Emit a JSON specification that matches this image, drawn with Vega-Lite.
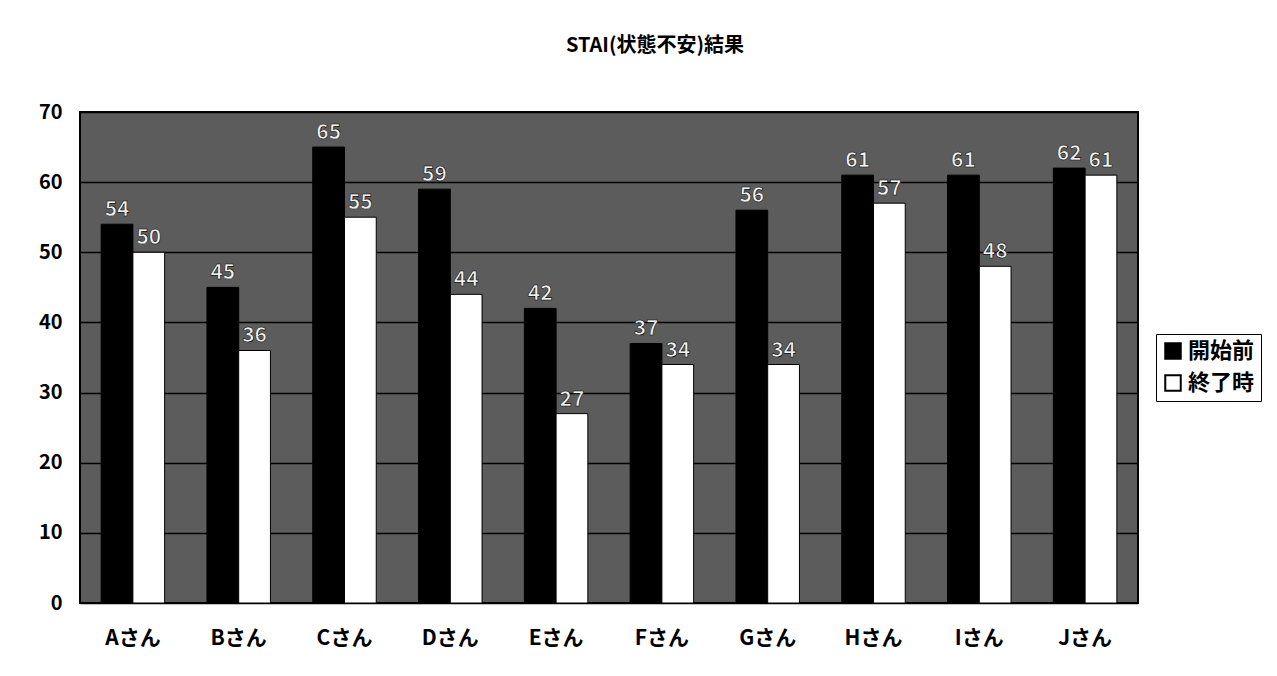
{
  "$schema": "https://vega.github.io/schema/vega-lite/v6.json",
  "autosize": "none",
  "width": 1058,
  "height": 491,
  "padding": {"left": 80, "top": 112, "right": 139, "bottom": 73},
  "background": "white",
  "title": {"text": "STAI(状態不安)結果", "fontSize": 20, "font": "Noto Sans CJK JP", "fontWeight": "bold", "color": "black", "anchor": "middle", "dx": 46, "offset": 46},
  "config": {
    "view": {"fill": "#5c5c5c", "stroke": "black", "strokeWidth": 2},
    "font": "Noto Sans CJK JP"
  },
  "data": {"values": [
    {"person": "Aさん", "phase": "開始前", "score": 54},
    {"person": "Aさん", "phase": "終了時", "score": 50},
    {"person": "Bさん", "phase": "開始前", "score": 45},
    {"person": "Bさん", "phase": "終了時", "score": 36},
    {"person": "Cさん", "phase": "開始前", "score": 65},
    {"person": "Cさん", "phase": "終了時", "score": 55},
    {"person": "Dさん", "phase": "開始前", "score": 59},
    {"person": "Dさん", "phase": "終了時", "score": 44},
    {"person": "Eさん", "phase": "開始前", "score": 42},
    {"person": "Eさん", "phase": "終了時", "score": 27},
    {"person": "Fさん", "phase": "開始前", "score": 37},
    {"person": "Fさん", "phase": "終了時", "score": 34},
    {"person": "Gさん", "phase": "開始前", "score": 56},
    {"person": "Gさん", "phase": "終了時", "score": 34},
    {"person": "Hさん", "phase": "開始前", "score": 61},
    {"person": "Hさん", "phase": "終了時", "score": 57},
    {"person": "Iさん", "phase": "開始前", "score": 61},
    {"person": "Iさん", "phase": "終了時", "score": 48},
    {"person": "Jさん", "phase": "開始前", "score": 62},
    {"person": "Jさん", "phase": "終了時", "score": 61}
  ]},
  "encoding": {
    "x": {"field": "person", "type": "nominal", "sort": null,
      "scale": {"paddingInner": 0.4, "paddingOuter": 0.2},
      "axis": {"title": null, "labelAngle": 0, "labelFontSize": 21, "labelFontWeight": "bold", "labelColor": "black", "labelPadding": 24, "ticks": false, "domain": false}},
    "xOffset": {"field": "phase", "type": "nominal", "sort": ["開始前", "終了時"]},
    "y": {"field": "score", "type": "quantitative",
      "scale": {"domain": [0, 70]},
      "axis": {"title": null, "values": [0, 10, 20, 30, 40, 50, 60, 70], "labelFontSize": 20, "labelFontWeight": "bold", "labelColor": "black", "labelPadding": 18, "ticks": false, "domain": false, "gridColor": "black", "gridWidth": 1.5, "gridOpacity": 1}}
  },
  "layer": [
    {"mark": {"type": "bar", "stroke": "black", "strokeWidth": 1},
     "encoding": {
       "color": {"field": "phase", "type": "nominal", "sort": ["開始前", "終了時"],
         "scale": {"domain": ["開始前", "終了時"], "range": ["black", "white"]},
         "legend": {"title": null, "orient": "none", "legendX": 1076, "legendY": 222, "symbolType": "square", "symbolSize": 240, "symbolStrokeColor": "black", "symbolStrokeWidth": 2, "labelFontSize": 22, "labelFontWeight": "bold", "labelColor": "black", "strokeColor": "black", "fillColor": "white", "padding": 6, "rowPadding": 8}}
     }},
    {"mark": {"type": "text", "dy": -14, "fontSize": 21, "fontWeight": "bold", "fill": "#f0f0f0", "stroke": "black", "strokeWidth": 0.6},
     "encoding": {"text": {"field": "score", "type": "quantitative"}}}
  ]
}
